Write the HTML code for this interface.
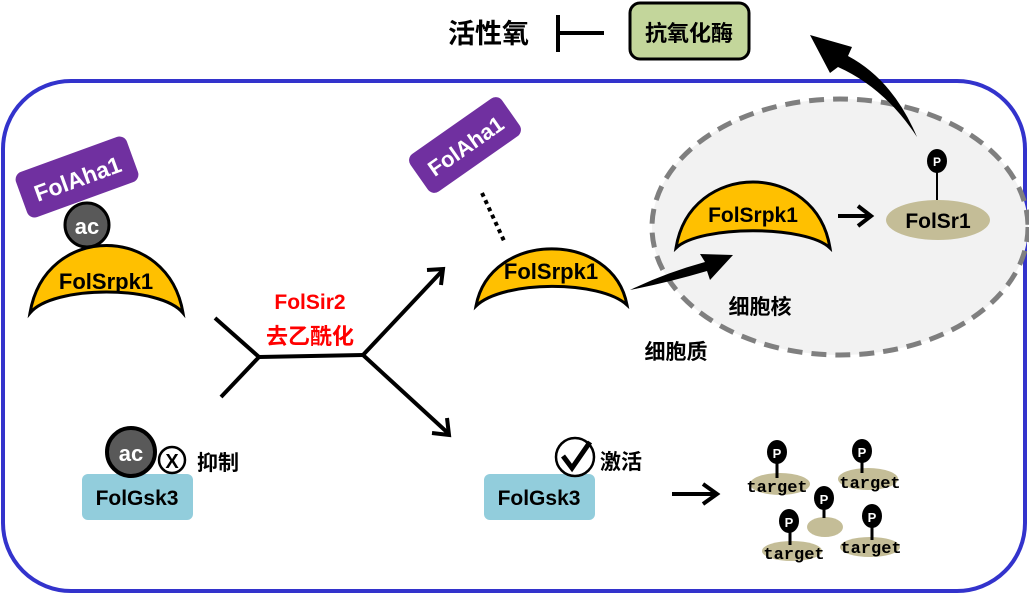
<!DOCTYPE html>
<html><head><meta charset="utf-8"><style>
html,body{margin:0;padding:0;background:#fff;}
svg{display:block;}
text{font-family:"Liberation Sans","Noto Sans CJK SC",sans-serif;font-weight:bold;}
.cjk{font-family:"Noto Sans CJK SC","WenQuanYi Zen Hei",sans-serif;font-weight:bold;}
.mono{font-family:"Liberation Mono",monospace;font-weight:bold;}
</style></head><body>
<svg width="1029" height="602" viewBox="0 0 1029 602" xmlns="http://www.w3.org/2000/svg">
<!-- cell -->
<rect x="3" y="81" width="1022" height="510" rx="68" ry="68" fill="#fff" stroke="#3333cc" stroke-width="4"/>
<!-- nucleus -->
<ellipse cx="840" cy="227" rx="188" ry="128" fill="#f2f2f2" stroke="#7f7f7f" stroke-width="5" stroke-dasharray="15,9"/>

<!-- top -->
<text x="448" y="43" font-size="27" class="cjk">活性氧</text>
<line x1="558" y1="15" x2="558" y2="52" stroke="#000" stroke-width="4"/>
<line x1="558" y1="33" x2="604" y2="33" stroke="#000" stroke-width="4"/>
<rect x="630" y="3" width="119" height="56" rx="10" fill="#c3d69b" stroke="#000" stroke-width="3"/>
<text x="689" y="41" font-size="22" class="cjk" text-anchor="middle">抗氧化酶</text>

<!-- big arrow to antioxidant -->
<path d="M917,137 Q885,88 838,67 L830,73 L810,35 L852,47 L848,56 Q893,80 917,137 Z" fill="#000"/>
<!-- big arrow cytoplasm to nucleus -->
<path d="M630,290 Q665,273 705,262 L700,254 L733,255 L710,280 L707,271 Q670,282 630,290 Z" fill="#000"/>

<!-- left complex -->
<g transform="rotate(-20 77 177)">
<rect x="18" y="153" width="118" height="48" rx="8" fill="#7030a0"/>
<text x="77" y="187" font-size="23" fill="#fff" text-anchor="middle">FolAha1</text>
</g>
<path d="M30,313 C45,223 168,223 183,313 C160,285 53,285 30,313 Z" fill="#ffc000" stroke="#000" stroke-width="3"/>
<circle cx="87" cy="225" r="22" fill="#595959" stroke="#000" stroke-width="3"/>
<text x="87" y="234" font-size="22" fill="#fff" text-anchor="middle">ac</text>
<text x="106" y="289" font-size="22" text-anchor="middle">FolSrpk1</text>

<!-- fork -->
<g stroke="#000" stroke-width="4" fill="none">
<line x1="215" y1="318" x2="259" y2="357"/>
<line x1="221" y1="397" x2="259" y2="357"/>
<line x1="259" y1="357" x2="363" y2="355"/>
<line x1="363" y1="355" x2="443" y2="270"/>
<line x1="363" y1="355" x2="449" y2="434"/>
<polyline points="427,270 443,269 441,285"/>
<polyline points="432,433 449,435 447,418"/>
</g>
<text x="310" y="309" font-size="21" fill="#ff0000" text-anchor="middle">FolSir2</text>
<text x="310" y="344" font-size="22" fill="#ff0000" text-anchor="middle" class="cjk">去乙酰化</text>

<!-- middle -->
<g transform="rotate(-35 465 145)">
<rect x="409" y="122" width="112" height="46" rx="8" fill="#7030a0"/>
<text x="465" y="154" font-size="22" fill="#fff" text-anchor="middle">FolAha1</text>
</g>
<line x1="482" y1="193" x2="505" y2="243" stroke="#000" stroke-width="4" stroke-dasharray="4,4"/>
<path d="M476,306 C490,230 613,230 627,305 C600,280 503,280 476,306 Z" fill="#ffc000" stroke="#000" stroke-width="3"/>
<text x="551" y="279" font-size="22" text-anchor="middle">FolSrpk1</text>

<!-- nucleus content -->
<path d="M676,248 C690,160 816,160 830,248 C806,225 700,225 676,248 Z" fill="#ffc000" stroke="#000" stroke-width="3"/>
<text x="753" y="222" font-size="21" text-anchor="middle">FolSrpk1</text>
<line x1="838" y1="216" x2="870" y2="216" stroke="#000" stroke-width="4"/>
<polyline points="858,206 871,216 858,226" fill="none" stroke="#000" stroke-width="4"/>
<line x1="937" y1="165" x2="937" y2="200" stroke="#000" stroke-width="2"/>
<ellipse cx="938" cy="220" rx="52" ry="20" fill="#c4bd97"/>
<text x="938" y="228" font-size="21" text-anchor="middle">FolSr1</text>
<ellipse cx="937" cy="161" rx="10" ry="12" fill="#000"/>
<text x="937" y="166" font-size="12" fill="#fff" text-anchor="middle">P</text>
<text x="760" y="314" font-size="21" class="cjk" text-anchor="middle">细胞核</text>
<text x="676" y="359" font-size="21" class="cjk" text-anchor="middle">细胞质</text>

<!-- bottom left Gsk3 -->
<rect x="82" y="474" width="111" height="46" rx="6" fill="#92cddc"/>
<text x="137" y="505" font-size="21" text-anchor="middle">FolGsk3</text>
<circle cx="131" cy="452" r="24" fill="#595959" stroke="#000" stroke-width="4"/>
<text x="131" y="461" font-size="22" fill="#fff" text-anchor="middle">ac</text>
<circle cx="172" cy="460" r="13" fill="#fff" stroke="#000" stroke-width="2.5"/>
<text x="172" y="468" font-size="20" text-anchor="middle">X</text>
<text x="197" y="470" font-size="21" class="cjk">抑制</text>

<!-- bottom middle Gsk3 -->
<rect x="484" y="474" width="111" height="46" rx="6" fill="#92cddc"/>
<text x="539" y="505" font-size="21" text-anchor="middle">FolGsk3</text>
<circle cx="575" cy="457" r="19" fill="#fff" stroke="#000" stroke-width="2.5"/>
<path d="M563,456 L572,468 L590,442" fill="none" stroke="#000" stroke-width="5"/>
<text x="600" y="469" font-size="21" class="cjk">激活</text>
<line x1="672" y1="494" x2="716" y2="494" stroke="#000" stroke-width="4"/>
<polyline points="703,484 717,494 703,504" fill="none" stroke="#000" stroke-width="4"/>

<!-- targets -->
<g>
<ellipse cx="780" cy="484" rx="30" ry="11" fill="#c4bd97"/>
<line x1="777" y1="460" x2="777" y2="478" stroke="#000" stroke-width="3"/>
<ellipse cx="777" cy="452" rx="10" ry="12" fill="#000"/><text x="777" y="458" font-size="13" fill="#fff" text-anchor="middle">P</text>
<text x="777" y="492" font-size="17" class="mono" text-anchor="middle">target</text>

<ellipse cx="868" cy="479" rx="30" ry="11" fill="#c4bd97"/>
<line x1="862" y1="458" x2="862" y2="473" stroke="#000" stroke-width="3"/>
<ellipse cx="862" cy="451" rx="10" ry="12" fill="#000"/><text x="862" y="457" font-size="13" fill="#fff" text-anchor="middle">P</text>
<text x="870" y="488" font-size="17" class="mono" text-anchor="middle">target</text>

<ellipse cx="825" cy="527" rx="18" ry="10" fill="#c4bd97"/>
<line x1="824" y1="505" x2="824" y2="518" stroke="#000" stroke-width="3"/>
<ellipse cx="824" cy="498" rx="10" ry="12" fill="#000"/><text x="824" y="504" font-size="13" fill="#fff" text-anchor="middle">P</text>

<ellipse cx="792" cy="551" rx="30" ry="10" fill="#c4bd97"/>
<line x1="790" y1="528" x2="790" y2="545" stroke="#000" stroke-width="3"/>
<ellipse cx="789" cy="521" rx="10" ry="12" fill="#000"/><text x="789" y="527" font-size="13" fill="#fff" text-anchor="middle">P</text>
<text x="794" y="559" font-size="17" class="mono" text-anchor="middle">target</text>

<ellipse cx="870" cy="547" rx="30" ry="10" fill="#c4bd97"/>
<line x1="872" y1="525" x2="872" y2="540" stroke="#000" stroke-width="3"/>
<ellipse cx="872" cy="516" rx="10" ry="12" fill="#000"/><text x="872" y="522" font-size="13" fill="#fff" text-anchor="middle">P</text>
<text x="871" y="553" font-size="17" class="mono" text-anchor="middle">target</text>
</g>
</svg>
</body></html>
